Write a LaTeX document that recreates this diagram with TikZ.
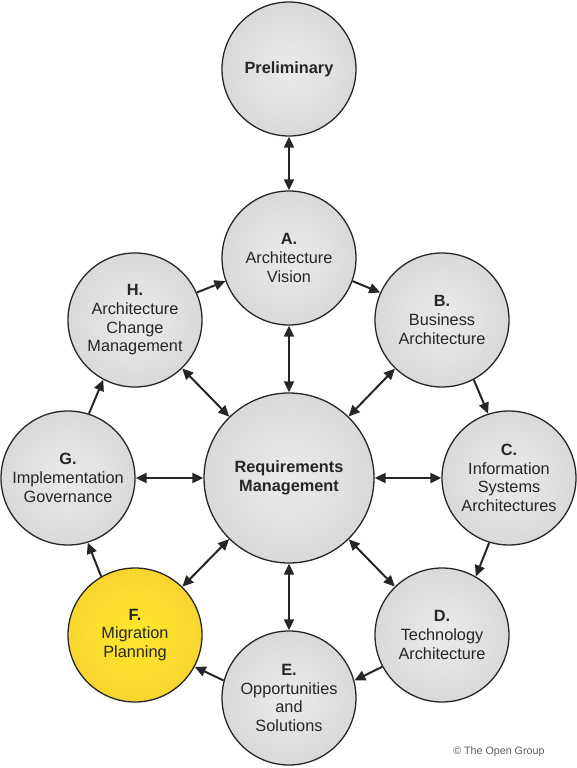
\documentclass[tikz,border=0pt]{standalone}
\usepackage{fontspec}
\setmainfont{Liberation Sans}
\usetikzlibrary{arrows.meta}
\definecolor{ink}{HTML}{262626}
\definecolor{discin}{HTML}{EBEBEB}
\definecolor{discout}{HTML}{C6C7C8}
\definecolor{goldin}{HTML}{FFE82C}
\definecolor{goldout}{HTML}{F1C232}
\pgfdeclareradialshading{greydisc}{\pgfpoint{0bp}{0bp}}{color(0bp)=(discin); color(50bp)=(discout)}
\pgfdeclareradialshading{golddisc}{\pgfpoint{0bp}{0bp}}{color(0bp)=(goldin); color(50bp)=(goldout)}
\begin{document}
\begin{tikzpicture}[x=1pt,y=-1pt,
  disc/.style={circle,draw=ink,line width=1.3pt,minimum size=134pt,inner sep=0pt,
    shading=greydisc,text=ink,align=center,font=\fontsize{16.3}{18.7}\selectfont},
  link/.style={draw=ink,line width=2pt,-{Triangle[length=11pt,width=10pt]}},
  both/.style={link,{Triangle[length=11pt,width=10pt]}-{Triangle[length=11pt,width=10pt]}}]
\useasboundingbox (0,0) rectangle (577,768);
% the phases
\node[disc] (P) at (289,69) {\textbf{Preliminary}};
\node[disc] (A) at (289,258) {\textbf{A.}\\Architecture\\Vision};
\node[disc] (B) at (442,320) {\textbf{B.}\\Business\\Architecture};
\node[disc] (C) at (509,478) {\textbf{C.}\\Information\\Systems\\Architectures};
\node[disc] (D) at (442,635) {\textbf{D.}\\Technology\\Architecture};
\node[disc] (E) at (289,698) {\textbf{E.}\\Opportunities\\and\\Solutions};
\node[disc,shading=golddisc] (F) at (135,635) {\textbf{F.}\\Migration\\Planning};
\node[disc] (G) at (68,478) {\textbf{G.}\\Implementation\\Governance};
\node[disc] (H) at (135,320) {\textbf{H.}\\Architecture\\Change\\Management};
\node[disc,minimum size=170pt] (R) at (289,478) {\textbf{Requirements}\\\textbf{Management}};
% links to the centre
\draw[both] (P) -- (A);
\foreach \n in {A,B,C,D,E,F,G,H}
  \draw[both] (R) -- (\n);
% the cycle
\draw[link] (A.-20) -- (B.156);
\draw[link] (B.-62) -- (C.108);
\draw[link] (C.-107) -- (D.60);
\draw[link] (D.208) -- (E.15);
\draw[link] (E.165) -- (F.-28);
\draw[link] (F.120) -- (G.-73);
\draw[link] (G.72) -- (H.-118);
\draw[link] (H.24) -- (A.200);
\node[anchor=east,text=ink!75,font=\fontsize{10.7}{12}\selectfont] (copy) at (548,752) {© The Open Group};
\end{tikzpicture}
\end{document}
